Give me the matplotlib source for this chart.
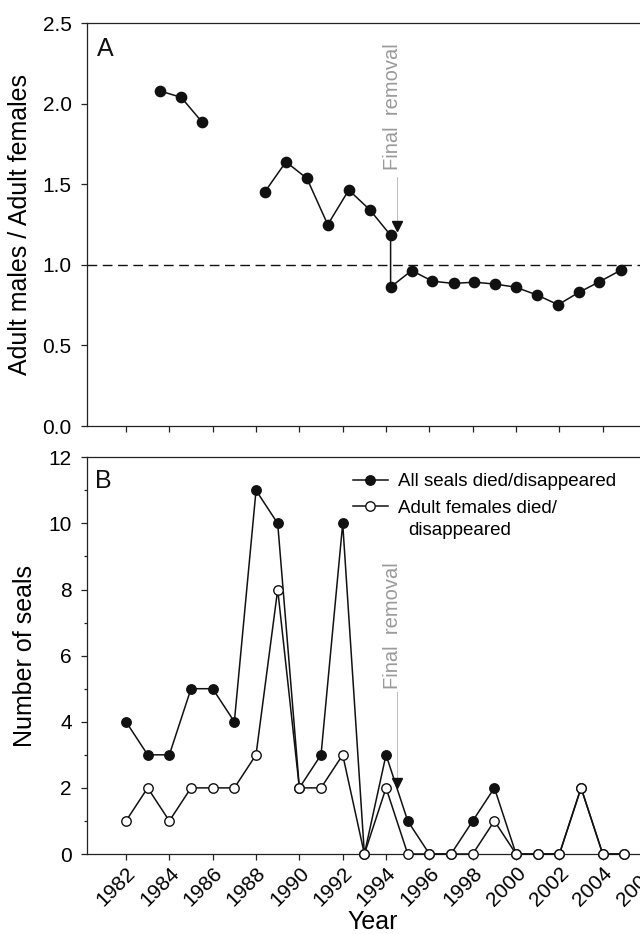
import matplotlib
matplotlib.use("Agg")
import matplotlib.pyplot as plt
import matplotlib.transforms as mtransforms
from matplotlib.ticker import MultipleLocator, FormatStrFormatter

plt.rcParams['font.family'] = ['Liberation Sans', 'DejaVu Sans']

# ---------------- data ----------------
# Panel A: adult male / adult female ratio
ratio_years_1 = [1983.57, 1984.55, 1985.52]
ratio_vals_1 = [2.08, 2.04, 1.885]
ratio_years_2 = [1988.41, 1989.38, 1990.35, 1991.31, 1992.28, 1993.26, 1994.21,
                 1994.21, 1995.18, 1996.14, 1997.12, 1998.07, 1999.03, 1999.98,
                 2000.97, 2001.94, 2002.89, 2003.84, 2004.83]
ratio_vals_2 = [1.454, 1.640, 1.537, 1.250, 1.465, 1.341, 1.184,
                0.862, 0.965, 0.899, 0.885, 0.893, 0.881, 0.862,
                0.813, 0.753, 0.829, 0.895, 0.967]

# Panel B: number of seals died/disappeared
years_b = list(range(1982, 2006))
all_seals = [4, 3, 3, 5, 5, 4, 11, 10, 2, 3, 10, 0, 3, 1, 0, 0, 1, 2, 0, 0, 0, 2, 0, 0]
adult_females = [1, 2, 1, 2, 2, 2, 3, 8, 2, 2, 3, 0, 2, 0, 0, 0, 0, 1, 0, 0, 0, 2, 0, 0]

year_ticks = list(range(1982, 2007, 2))
removal_year = 1994.5
removal_text = "Final  removal"
legend_labels = ["All seals died/disappeared", "Adult females died/"]
legend_label_cont = "disappeared"

# ---------------- figure ----------------
W, H = 640, 934
fig = plt.figure(figsize=(W / 100, H / 100), dpi=100)

def px_axes(left, top, right, bottom):
    return [left / W, 1 - bottom / H, (right - left) / W, (bottom - top) / H]

xlim = (1980.186, 2007.0)
ax_right = 667.75
axA = fig.add_axes(px_axes(86.7, 23.3, ax_right, 426.0))
axB = fig.add_axes(px_axes(86.7, 457.3, ax_right, 854.0))

spine_c = '#222222'
for ax in (axA, axB):
    ax.set_xlim(*xlim)
    ax.set_xticks(year_ticks)
    for s in ('left', 'bottom', 'top'):
        ax.spines[s].set_color(spine_c)
        ax.spines[s].set_linewidth(0.9)
    ax.spines['right'].set_visible(False)
    ax.tick_params(which='major', direction='out', length=4, width=0.9,
                   color=spine_c, labelsize=15)
    ax.tick_params(which='minor', direction='out', length=2.2, width=0.9, color=spine_c)
    ax.tick_params(axis='y', which='major', pad=6.8)
    ax.tick_params(axis='x', which='major', pad=3)

# ---- Panel A ----
axA.set_ylim(0, 2.5)
axA.yaxis.set_major_locator(MultipleLocator(0.5))
axA.yaxis.set_major_formatter(FormatStrFormatter('%.1f'))
axA.tick_params(axis='x', labelbottom=False)
axA.axhline(1.0, color='#111111', lw=1.0, dashes=(7, 4), zorder=1)
mk = dict(marker='o', ms=7.4, color='#111111', lw=1.1, mfc='#111111', mec='#111111')
axA.plot(ratio_years_1, ratio_vals_1, **mk, zorder=3)
axA.plot(ratio_years_2, ratio_vals_2, **mk, zorder=3)
axA.set_ylabel('Adult males / Adult females', fontsize=18)
axA.yaxis.set_label_coords(-0.094, 0.5)
axA.text(0.0172, 0.966, 'A', transform=axA.transAxes, fontsize=18,
         ha='left', va='top', color='#111111')

# ---- Panel B ----
axB.set_ylim(0, 12)
axB.yaxis.set_major_locator(MultipleLocator(2))
axB.yaxis.set_minor_locator(MultipleLocator(1))
axB.plot(years_b, all_seals, marker='o', ms=6.8, color='#111111', lw=1.1,
         mfc='#111111', mec='#111111', label=legend_labels[0], zorder=3, clip_on=False)
axB.plot(years_b, adult_females, marker='o', ms=6.8, color='#111111', lw=1.1,
         mfc='white', mec='#111111', mew=1.0, label=legend_labels[1], zorder=4, clip_on=False)
axB.set_xticklabels([str(y) for y in year_ticks], rotation=45, ha='right',
                    rotation_mode='anchor')
axB.set_ylabel('Number of seals', fontsize=18)
axB.yaxis.set_label_coords(-0.086, 0.5)
axB.set_xlabel('Year', fontsize=18)
axB.xaxis.set_label_coords(0.4928, -0.141)
axB.text(0.0140, 0.970, 'B', transform=axB.transAxes, fontsize=18,
         ha='left', va='top', color='#111111')
leg = axB.legend(loc='upper left', bbox_to_anchor=(0.458, 0.960), frameon=False,
                 fontsize=13.5, handlelength=1.85, handletextpad=0.55,
                 borderpad=0, borderaxespad=0, labelspacing=0.5, markerscale=1.0)

# ---- Final removal annotations ----
def removal(ax, text_y, line_top, tip):
    ax.text(removal_year - 0.19, text_y, removal_text, rotation=90, fontsize=14.5,
            color='#9a9a9a', ha='center', va='bottom', zorder=2)
    ax.plot([removal_year, removal_year], [line_top, tip], color='#bbbbbb',
            lw=0.7, zorder=2)
    trans = mtransforms.offset_copy(ax.transData, fig=fig, x=0, y=3.3, units='points')
    ax.plot([removal_year], [tip], marker='v', ms=6.6, color='#111111',
            transform=trans, zorder=5, clip_on=False)

removal(axA, 1.59, 1.545, 1.213)
removal(axB, 4.98, 4.9, 2.0)

# continuation line of the second legend label (indented, below its first line)
fig.canvas.draw()
renderer = fig.canvas.get_renderer()
bb = leg.get_texts()[1].get_window_extent(renderer)
fig.text((bb.x0 + 10.7) / W, (bb.y0 - 22.7) / H, legend_label_cont, fontsize=13.5,
         ha='left', va='bottom', color='black')

fig.savefig('out.png', dpi=100)
